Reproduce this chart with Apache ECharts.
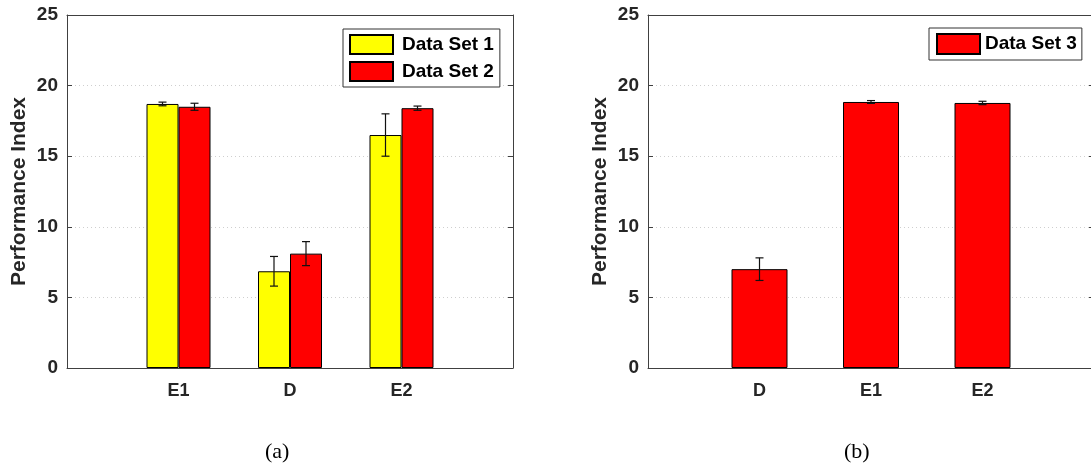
<!DOCTYPE html>
<html>
<head>
<meta charset="utf-8">
<script src="https://cdn.jsdelivr.net/npm/echarts@6/dist/echarts.min.js"></script>
<style>html,body{margin:0;padding:0;background:#fff;overflow:hidden}#c{width:1100px;height:470px}</style>
</head>
<body>
<div id="c"></div>
<script>
// ---- data ----
var catsA = ['E1', 'D', 'E2'];
var set1 = [18.7, 6.85, 16.5];
var set1Err = [0.13, 1.05, 1.5];
var set2 = [18.5, 8.1, 18.4];
var set2Err = [0.25, 0.85, 0.15];
var catsB = ['D', 'E1', 'E2'];
var set3 = [7.0, 18.84, 18.77];
var set3Err = [0.8, 0.1, 0.12];
var yTicks = [0, 5, 10, 15, 20, 25];

var FONT = '"Liberation Sans", Arial, Helvetica, sans-serif';
var AX = '#404040';
var TXT = '#262626';

function pts(vals) { return vals.map(function (v, i) { return [i + 1, v]; }); }
function errPts(vals, errs) { return vals.map(function (v, i) { return [i + 1, v - errs[i], v + errs[i]]; }); }

function errSeries(name, xi, yi, vals, errs, offsetPx) {
  return {
    type: 'custom', name: name + ' err', xAxisIndex: xi, yAxisIndex: yi, z: 5,
    data: errPts(vals, errs),
    renderItem: function (params, api) {
      var lo = api.coord([api.value(0), api.value(1)]);
      var hi = api.coord([api.value(0), api.value(2)]);
      var x = lo[0] + offsetPx, cw = 4;
      var st = { stroke: '#111', lineWidth: 1.2 };
      return { type: 'group', children: [
        { type: 'line', shape: { x1: x, y1: lo[1], x2: x, y2: hi[1] }, style: st },
        { type: 'line', shape: { x1: x - cw, y1: lo[1], x2: x + cw, y2: lo[1] }, style: st },
        { type: 'line', shape: { x1: x - cw, y1: hi[1], x2: x + cw, y2: hi[1] }, style: st }
      ]};
    }
  };
}

function xAxes(gi, cats) {
  return [{
    type: 'value', gridIndex: gi, min: 0, max: 4, interval: 1, position: 'bottom',
    axisLine: { show: true, lineStyle: { color: AX, width: 1 } },
    axisTick: { show: false }, splitLine: { show: false },
    axisLabel: { margin: 14, color: TXT, fontFamily: FONT, fontWeight: 'bold', fontSize: 18,
      formatter: function (v) { return (v >= 1 && v <= cats.length) ? cats[v - 1] : ''; } }
  }, {
    type: 'value', gridIndex: gi, min: 0, max: 4, interval: 1, position: 'top',
    axisLine: { show: true, onZero: false, lineStyle: { color: AX, width: 1 } },
    axisTick: { show: false }, axisLabel: { show: false }, splitLine: { show: false }
  }];
}
function yAxes(gi) {
  return [{
    type: 'value', gridIndex: gi, min: 0, max: 25, interval: 5, position: 'left',
    name: 'Performance Index', nameLocation: 'middle', nameGap: 37,
    nameTextStyle: { color: TXT, fontFamily: FONT, fontWeight: 'bold', fontSize: 21 },
    axisLine: { show: true, lineStyle: { color: AX, width: 1 } },
    axisTick: { show: true, inside: true, length: 5, lineStyle: { color: AX } },
    axisLabel: { margin: 9, color: TXT, fontFamily: FONT, fontWeight: 'bold', fontSize: 19,
      formatter: function (v) { return yTicks.indexOf(v) >= 0 ? String(v) : ''; } },
    splitLine: { show: true, lineStyle: { color: '#cfcfcf', type: [1, 3], width: 1 } }
  }, {
    type: 'value', gridIndex: gi, min: 0, max: 25, interval: 5, position: 'right',
    axisLine: { show: true, onZero: false, lineStyle: { color: AX, width: 1 } },
    axisTick: { show: true, inside: true, length: 5, lineStyle: { color: AX } },
    axisLabel: { show: false }, splitLine: { show: false }
  }];
}

var barBorder = { borderColor: '#000', borderWidth: 1 };
var legendBase = {
  orient: 'vertical', itemWidth: 43, itemHeight: 19, itemGap: 6,
  backgroundColor: '#fff', borderColor: '#333', borderWidth: 1,
  textStyle: { color: '#000', fontFamily: FONT, fontWeight: 'bold', fontSize: 19, padding: [0, 0, 0, 4] },
  icon: 'rect', selectedMode: false
};

var chart = echarts.init(document.getElementById('c'), null, { renderer: 'canvas' });
chart.setOption({
  animation: false,
  grid: [
    { left: 67, top: 15, width: 446, height: 353 },
    { left: 648, top: 15, width: 446, height: 353 }
  ],
  xAxis: xAxes(0, catsA).concat(xAxes(1, catsB)),
  yAxis: yAxes(0).concat(yAxes(1)),
  legend: [
    Object.assign({}, legendBase, { data: ['Data Set 1', 'Data Set 2'], left: 343, top: 29, padding: [5, 6, 5, 6] }),
    Object.assign({}, legendBase, { data: ['Data Set 3'], left: 929, top: 28, padding: [5, 5, 5, 7], itemHeight: 20,
      textStyle: Object.assign({}, legendBase.textStyle, { padding: [0, 0, 0, 0] }) })
  ],
  series: [
    { type: 'bar', name: 'Data Set 1', xAxisIndex: 0, yAxisIndex: 0, data: pts(set1), barWidth: 32, barGap: '0%',
      itemStyle: Object.assign({ color: '#ffff00' }, barBorder) },
    { type: 'bar', name: 'Data Set 2', xAxisIndex: 0, yAxisIndex: 0, data: pts(set2), barWidth: 32, barGap: '0%',
      itemStyle: Object.assign({ color: '#ff0000' }, barBorder) },
    errSeries('Data Set 1', 0, 0, set1, set1Err, -16),
    errSeries('Data Set 2', 0, 0, set2, set2Err, 16),
    { type: 'bar', name: 'Data Set 3', xAxisIndex: 2, yAxisIndex: 2, data: pts(set3), barWidth: 56,
      itemStyle: Object.assign({ color: '#ff0000' }, barBorder) },
    errSeries('Data Set 3', 2, 2, set3, set3Err, 0)
  ],
  graphic: [
    { type: 'text', left: 265, top: 441, style: { text: '(a)', font: '22px "Liberation Serif", "Times New Roman", serif', fill: '#000' } },
    { type: 'text', left: 844, top: 441, style: { text: '(b)', font: '22px "Liberation Serif", "Times New Roman", serif', fill: '#000' } }
  ]
});
</script>
</body>
</html>
